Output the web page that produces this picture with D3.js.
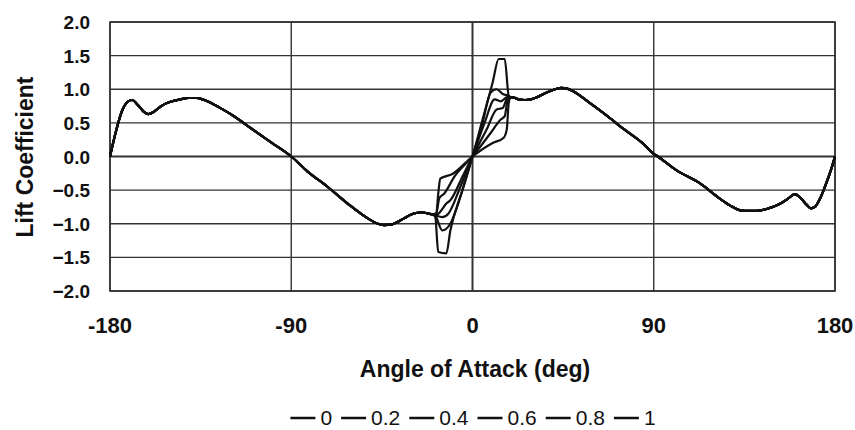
<!DOCTYPE html>
<html>
<head>
<meta charset="utf-8">
<script src="https://cdn.jsdelivr.net/npm/d3@7"></script>
<style>
  body { margin: 0; background: #fff; }
  svg text { font-family: "Liberation Sans", Arial, sans-serif; fill: #111; }
</style>
</head>
<body>
<svg id="chart" width="855" height="430"></svg>
<script>
// Series names (legend).
const seriesNames = ["0", "0.2", "0.4", "0.6", "0.8", "1"];

// Shared part of the curve, from -180 to -20 deg.
const leftAngle = [-180, -177, -174, -171, -169, -166, -163, -161, -158, -155, -152, -148, -145, -141, -137,
  -134, -130, -127, -119, -110, -100, -90, -82, -72, -62, -52, -47, -44, -40, -37, -34, -31, -28, -25, -22, -20];
const leftCl = [0, 0.38, 0.68, 0.82, 0.84, 0.76, 0.66, 0.63, 0.67, 0.74, 0.79, 0.83, 0.85, 0.87, 0.87,
  0.85, 0.80, 0.75, 0.61, 0.42, 0.21, 0.0, -0.22, -0.45, -0.70, -0.92, -1.0, -1.02, -1.01, -0.97, -0.92, -0.87, -0.84, -0.83, -0.85, -0.86];

// Shared part of the curve, from 20 to 180 deg.
const rightAngle = [20, 23, 26, 29, 32, 36, 40, 44, 47, 50, 58, 67, 75, 84, 90, 92, 101, 113, 123, 128, 133,
  137, 141, 146, 150, 154, 157, 160, 163, 166, 168, 170, 172, 175, 178, 180];
const rightCl = [0.88, 0.85, 0.84, 0.85, 0.88, 0.94, 0.99, 1.02, 1.01, 0.97, 0.80, 0.60, 0.41, 0.21, 0.04, 0.0, -0.20, -0.40, -0.63, -0.73, -0.80,
  -0.81, -0.81, -0.78, -0.74, -0.68, -0.62, -0.56, -0.62, -0.72, -0.77, -0.75, -0.66, -0.45, -0.2, 0];

// Inner part of each series, between -20 and 20 deg.
const innerAngle = [
  [-18.5, -17, -13, -11, -5, 0, 5, 10, 13, 16, 18, 19],
  [-18.5, -15, -11, -5, 0, 5, 9, 12, 15, 18, 19],
  [-18, -15, -12, -6, 0, 6, 11, 14, 16, 18, 19],
  [-18, -16, -13, -11, -5, 0, 7, 12, 15, 17, 19],
  [-18, -16.5, -14, -9, 0, 9, 14, 16, 17.5, 19],
  [-18, -17, -16, -10, 0, 10, 15.5, 17, 18, 19]
];
const innerCl = [
  [-0.9, -1.42, -1.44, -1.1, -0.5, 0, 0.55, 1.1, 1.45, 1.45, 0.9, 0.88],
  [-0.88, -1.1, -1.0, -0.5, 0, 0.5, 0.95, 1.0, 0.93, 0.9, 0.88],
  [-0.88, -0.9, -0.85, -0.45, 0, 0.5, 0.85, 0.82, 0.86, 0.9, 0.88],
  [-0.87, -0.82, -0.70, -0.65, -0.3, 0, 0.4, 0.7, 0.72, 0.85, 0.88],
  [-0.85, -0.62, -0.55, -0.3, 0, 0.35, 0.55, 0.6, 0.85, 0.88],
  [-0.85, -0.55, -0.33, -0.26, 0, 0.2, 0.28, 0.4, 0.8, 0.88]
];

const xTicks = [-180, -90, 0, 90, 180];
const yTicks = [-2, -1.5, -1, -0.5, 0, 0.5, 1, 1.5, 2];

const svg = d3.select("#chart");
const plot = { left: 110, right: 835, top: 22, bottom: 291 };

const x = d3.scaleLinear().domain([-180, 180]).range([plot.left, plot.right]);
const y = d3.scaleLinear().domain([-2, 2]).range([plot.bottom, plot.top]);

// Horizontal grid lines.
svg.append("g")
  .selectAll("line")
  .data(yTicks)
  .join("line")
  .attr("x1", plot.left).attr("x2", plot.right)
  .attr("y1", d => y(d)).attr("y2", d => y(d))
  .attr("stroke", "#333")
  .attr("stroke-width", d => d === 0 ? 2 : 1.4);

// Vertical grid lines.
svg.append("g")
  .selectAll("line")
  .data(xTicks)
  .join("line")
  .attr("x1", d => x(d)).attr("x2", d => x(d))
  .attr("y1", plot.top).attr("y2", plot.bottom)
  .attr("stroke", "#333")
  .attr("stroke-width", d => d === 0 ? 2 : 1.4);

// Plot border.
svg.append("rect")
  .attr("x", plot.left).attr("y", plot.top)
  .attr("width", plot.right - plot.left).attr("height", plot.bottom - plot.top)
  .attr("fill", "none").attr("stroke", "#333").attr("stroke-width", 1.6);

// Y tick labels.
svg.append("g")
  .selectAll("text")
  .data(yTicks)
  .join("text")
  .attr("x", 90)
  .attr("y", d => y(d) + 7)
  .attr("text-anchor", "end")
  .attr("font-size", "19px")
  .attr("font-weight", "bold")
  .text(d3.format(".1f"));

// X tick labels.
svg.append("g")
  .selectAll("text")
  .data(xTicks)
  .join("text")
  .attr("x", d => x(d))
  .attr("y", 333)
  .attr("text-anchor", "middle")
  .attr("font-size", "22px")
  .attr("font-weight", "bold")
  .text(d => d);

// Axis titles.
svg.append("text")
  .attr("x", 475).attr("y", 377)
  .attr("text-anchor", "middle")
  .attr("font-size", "23px")
  .attr("font-weight", "bold")
  .text("Angle of Attack (deg)");
svg.append("text")
  .attr("transform", "translate(33,157) rotate(-90)")
  .attr("text-anchor", "middle")
  .attr("font-size", "23px")
  .attr("font-weight", "bold")
  .text("Lift Coefficient");

// Build each series: shared left part + own inner part + shared right part.
const series = seriesNames.map((name, i) => {
  const pts = [];
  leftAngle.forEach((a, j) => pts.push([a, leftCl[j]]));
  innerAngle[i].forEach((a, j) => pts.push([a, innerCl[i][j]]));
  rightAngle.forEach((a, j) => pts.push([a, rightCl[j]]));
  return { name, pts };
});

const line = d3.line()
  .x(d => x(d[0]))
  .y(d => y(d[1]))
  .curve(d3.curveMonotoneX);

svg.append("g")
  .selectAll("path")
  .data(series)
  .join("path")
  .attr("d", d => line(d.pts))
  .attr("fill", "none")
  .attr("stroke", "#111")
  .attr("stroke-width", 2.2)
  .attr("stroke-linejoin", "round");

// Legend, laid out from text widths and centred afterwards.
const legend = svg.append("g");
let lx = 0;
seriesNames.forEach(name => {
  legend.append("line")
    .attr("x1", lx).attr("x2", lx + 25)
    .attr("y1", 418).attr("y2", 418)
    .attr("stroke", "#111").attr("stroke-width", 2.5);
  const t = legend.append("text")
    .attr("x", lx + 30).attr("y", 425)
    .attr("font-size", "21px")
    .text(name);
  lx += 30 + t.node().getComputedTextLength() + 9;
});
legend.attr("transform", `translate(${473 - (lx - 9) / 2},0)`);
</script>
</body>
</html>
